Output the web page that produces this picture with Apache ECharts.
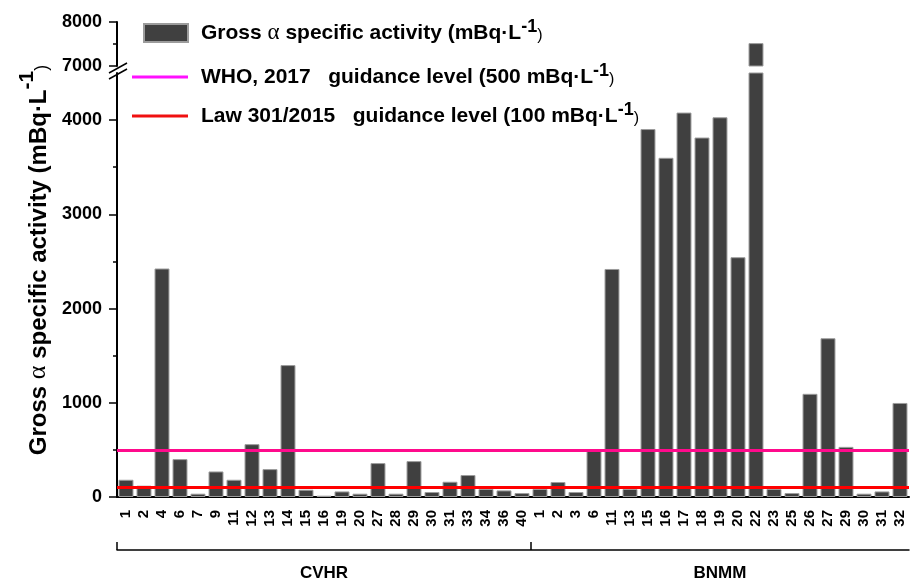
<!DOCTYPE html>
<html>
<head>
<meta charset="utf-8">
<script src="https://cdn.jsdelivr.net/npm/echarts@6/dist/echarts.min.js"></script>
<style>
  html, body { margin: 0; padding: 0; background: #fff; }
  #chart { width: 911px; height: 582px; }
</style>
</head>
<body>
<div id="chart"></div>
<script>
// Sampling sites of the two groups and their gross alpha activity (mBq/L)
const cvhrSites = ['1','2','4','6','7','9','11','12','13','14','15','16','19','20','27','28','29','30','31','33','34','36','40'];
const cvhrActivity = [183, 120, 2425, 402, 35, 271, 183, 561, 296, 1400, 77, 14, 59, 35, 360, 35, 381, 53, 162, 233, 85, 70, 42];
const bnmmSites = ['1','2','3','6','11','13','15','16','17','18','19','20','22','23','25','26','27','29','30','31','32'];
const bnmmActivity = [85, 159, 53, 493, 2420, 85, 3905, 3600, 4080, 3815, 4030, 2545, 7520, 85, 42, 1095, 1685, 532, 35, 59, 998];
const groupNames = ['CVHR', 'BNMM'];

// Guidance levels
const whoLevel = 500;
const lawLevel = 100;

// Broken value axis: lower and upper segments
const lowerMax = 4500;
const upperMin = 7000;
const upperMax = 8000;
const lowerTicks = [0, 1000, 2000, 3000, 4000];
const lowerMinorTicks = [500, 1500, 2500, 3500];
const upperTicks = [7000, 8000];
const upperMinorTicks = [7500];

const categories = cvhrSites.concat(bnmmSites);
const activity = cvhrActivity.concat(bnmmActivity);
const upperActivity = activity.map(v => (v > upperMin ? v : '-'));

const barName = 'Gross α specific activity';
const whoName = 'WHO, 2017';
const lawName = 'Law 301/2015';
const legendRich = {
  [barName]: '{b|Gross }{a|α}{b| specific activity (mBq·L}{s|-1}{p|)}',
  [whoName]: '{b|WHO, 2017   guidance level (500 mBq·L}{s|-1}{p|)}',
  [lawName]: '{b|Law 301/2015   guidance level (100 mBq·L}{s|-1}{p|)}'
};

const FONT = 'Liberation Sans, Arial, sans-serif';
const richStyles = {
  b: { fontFamily: FONT, fontWeight: 'bold', fontSize: 21, color: '#000', verticalAlign: 'middle', lineHeight: 30 },
  a: { fontFamily: 'Liberation Serif, serif', fontWeight: 'normal', fontSize: 23, color: '#000', verticalAlign: 'middle', lineHeight: 30 },
  s: { fontFamily: FONT, fontWeight: 'bold', fontSize: 18, color: '#000', verticalAlign: 'top', lineHeight: 30 },
  p: { fontFamily: FONT, fontWeight: 'normal', fontSize: 16, color: '#000', verticalAlign: 'middle', lineHeight: 30, padding: [6, 0, 0, 0] }
};

const plainNumber = v => String(v);

const chart = echarts.init(document.getElementById('chart'), null, { renderer: 'canvas' });

const axisBlack = { color: '#000', width: 2 };
const barStyle = { color: '#404040', borderColor: '#9c9c9c', borderWidth: 1 };
const WHO_COLOR = '#ff0a8c';
const LAW_COLOR = '#ff0000';

const option = {
  backgroundColor: '#fff',
  animation: false,
  grid: [
    { left: 117, right: 2, top: 73, bottom: 84 },   // lower segment
    { left: 117, right: 2, top: 22, height: 44 },   // upper segment
    { left: 117, right: 2, top: 22, bottom: 84 }    // whole height, carries axis title
  ],
  legend: [
    {
      data: [barName],
      left: 143, top: 18, padding: 0,
      icon: 'rect', itemWidth: 44, itemHeight: 18,
      selectedMode: false,
      formatter: n => legendRich[n],
      textStyle: { padding: [0, 0, 0, 8], rich: richStyles }
    },
    {
      data: [
        { name: whoName, itemStyle: { color: '#ff10ff' } },
        { name: lawName, itemStyle: { color: '#f01010' } }
      ],
      orient: 'vertical',
      left: 132, top: 62, padding: 0,
      icon: 'rect', itemWidth: 56, itemHeight: 3, itemGap: 13,
      selectedMode: false,
      formatter: n => legendRich[n],
      textStyle: { padding: [0, 0, 0, 8], rich: richStyles }
    }
  ],
  xAxis: [
    {
      type: 'category', gridIndex: 0, data: categories, position: 'bottom',
      axisLine: { lineStyle: axisBlack },
      axisTick: { alignWithLabel: true, length: 9, lineStyle: { color: '#000', width: 1.5 } },
      axisLabel: { interval: 0, rotate: 90, color: '#000', fontFamily: FONT, fontWeight: 'bold', fontSize: 15, margin: 13 }
    },
    { type: 'category', gridIndex: 1, data: categories, show: false },
    {
      // group bracket under the site labels
      type: 'value', gridIndex: 0, position: 'bottom', offset: 53,
      min: 0, max: categories.length,
      axisLine: { onZero: false, lineStyle: { color: '#000', width: 1.5 } },
      axisTick: { inside: true, length: 8, customValues: [0, cvhrSites.length], lineStyle: { color: '#000', width: 1.5 } },
      axisLabel: {
        customValues: [cvhrSites.length / 2, cvhrSites.length + bnmmSites.length / 2],
        formatter: v => (v < cvhrSites.length ? groupNames[0] : groupNames[1]),
        color: '#000', fontFamily: FONT,
        fontWeight: 'bold', fontSize: 17, margin: 15
      },
      splitLine: { show: false }
    },
    { type: 'value', gridIndex: 2, show: false, min: 0, max: 1 }
  ],
  yAxis: [
    {
      type: 'value', gridIndex: 0, position: 'left', min: 0, max: lowerMax,
      axisLine: { show: true, onZero: false, lineStyle: axisBlack },
      axisTick: { show: true, length: 8, customValues: lowerTicks, lineStyle: { color: '#000', width: 1.5 } },
      axisLabel: { customValues: lowerTicks, formatter: plainNumber, color: '#000', fontFamily: FONT, fontWeight: 'bold', fontSize: 18, margin: 15 },
      splitLine: { show: false }
    },
    {
      type: 'value', gridIndex: 0, position: 'left', min: 0, max: lowerMax,
      axisLine: { show: false },
      axisTick: { show: true, length: 4, customValues: lowerMinorTicks, lineStyle: { color: '#000', width: 1.5 } },
      axisLabel: { show: false },
      splitLine: { show: false }
    },
    {
      type: 'value', gridIndex: 1, position: 'left', min: upperMin, max: upperMax,
      axisLine: { show: true, onZero: false, lineStyle: axisBlack },
      axisTick: { show: true, length: 8, customValues: upperTicks, lineStyle: { color: '#000', width: 1.5 } },
      axisLabel: { customValues: upperTicks, formatter: plainNumber, color: '#000', fontFamily: FONT, fontWeight: 'bold', fontSize: 18, margin: 15 },
      splitLine: { show: false }
    },
    {
      type: 'value', gridIndex: 1, position: 'left', min: upperMin, max: upperMax,
      axisLine: { show: false },
      axisTick: { show: true, length: 4, customValues: upperMinorTicks, lineStyle: { color: '#000', width: 1.5 } },
      axisLabel: { show: false },
      splitLine: { show: false }
    },
    {
      type: 'value', gridIndex: 2, position: 'left', min: 0, max: 1,
      axisLine: { show: false }, axisTick: { show: false }, axisLabel: { show: false }, splitLine: { show: false },
      name: '{b|Gross }{a|α}{b| specific activity (mBq·L}{s|-1}{p|)}',
      nameLocation: 'middle', nameGap: 66, nameRotate: 90,
      nameTextStyle: {
        rich: {
          b: { fontFamily: FONT, fontWeight: 'bold', fontSize: 24, color: '#000', verticalAlign: 'bottom', lineHeight: 34 },
          a: { fontFamily: 'Liberation Serif, serif', fontWeight: 'normal', fontSize: 26, color: '#000', verticalAlign: 'bottom', lineHeight: 34 },
          s: { fontFamily: FONT, fontWeight: 'bold', fontSize: 21, color: '#000', verticalAlign: 'top', lineHeight: 34 },
          p: { fontFamily: FONT, fontWeight: 'normal', fontSize: 18, color: '#000', verticalAlign: 'bottom', lineHeight: 32 }
        }
      }
    }
  ],
  series: [
    {
      name: barName, type: 'bar', xAxisIndex: 0, yAxisIndex: 0,
      data: activity, barCategoryGap: '17%', itemStyle: barStyle, clip: true
    },
    {
      name: barName, type: 'bar', xAxisIndex: 1, yAxisIndex: 2,
      data: upperActivity, barCategoryGap: '17%', itemStyle: barStyle, clip: true
    },
    {
      name: whoName, type: 'line', xAxisIndex: 0, yAxisIndex: 0, data: [], z: 5,
      color: WHO_COLOR,
      markLine: {
        symbol: 'none', silent: true, label: { show: false },
        lineStyle: { color: WHO_COLOR, width: 3, type: 'solid', opacity: 1 },
        emphasis: { disabled: true },
        data: [{ yAxis: whoLevel }]
      }
    },
    {
      name: lawName, type: 'line', xAxisIndex: 0, yAxisIndex: 0, data: [], z: 5,
      color: LAW_COLOR,
      markLine: {
        symbol: 'none', silent: true, label: { show: false },
        lineStyle: { color: LAW_COLOR, width: 3, type: 'solid', opacity: 1 },
        emphasis: { disabled: true },
        data: [{ yAxis: lawLevel }]
      }
    }
  ],
  graphic: [
    // break marks on the value axis
    { type: 'line', shape: { x1: 109, y1: 73, x2: 127, y2: 63 }, style: { stroke: '#000', lineWidth: 1.5 }, z: 10 },
    { type: 'line', shape: { x1: 109, y1: 79, x2: 127, y2: 69 }, style: { stroke: '#000', lineWidth: 1.5 }, z: 10 }
  ]
};

chart.setOption(option);
</script>
</body>
</html>
